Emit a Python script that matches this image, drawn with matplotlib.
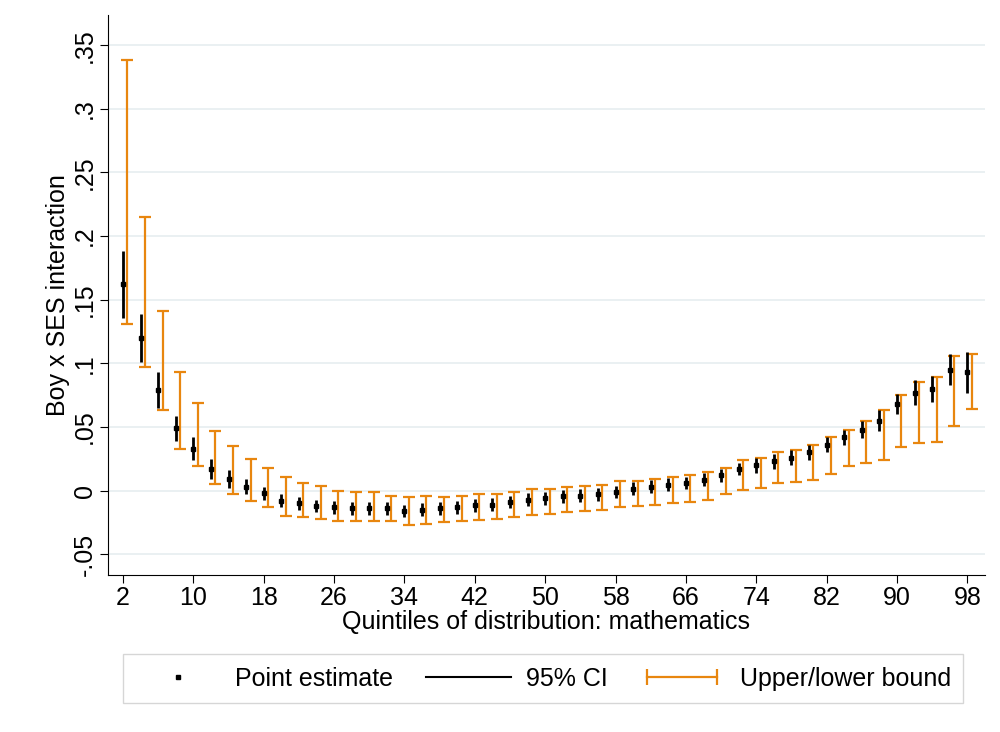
import matplotlib
matplotlib.use("Agg")
import matplotlib.pyplot as plt
import numpy as np
from matplotlib.lines import Line2D
from matplotlib.legend_handler import HandlerLine2D

plt.rcParams['font.family'] = ['Liberation Sans', 'DejaVu Sans']

x = list(range(2, 100, 2))
est = [0.162, 0.120, 0.079, 0.049, 0.033, 0.017, 0.009, 0.003, -0.002, -0.008,
       -0.010, -0.012, -0.013, -0.014, -0.014, -0.014, -0.016, -0.015, -0.014, -0.013,
       -0.0115, -0.011, -0.009, -0.007, -0.006, -0.0045, -0.004, -0.003, -0.001, 0.0016,
       0.003, 0.0047, 0.006, 0.0087, 0.012, 0.017, 0.020, 0.023, 0.026, 0.030,
       0.036, 0.042, 0.048, 0.055, 0.068, 0.077, 0.080, 0.095, 0.093]
ci_half = [0.026, 0.019, 0.014, 0.010, 0.009, 0.008, 0.007, 0.006, 0.005, 0.005,
           0.005, 0.005, 0.005, 0.005, 0.005, 0.005, 0.005, 0.005, 0.005, 0.005,
           0.005, 0.005, 0.005, 0.005, 0.005, 0.005, 0.005, 0.005, 0.005, 0.005,
           0.005, 0.005, 0.005, 0.005, 0.005, 0.005, 0.006, 0.006, 0.006, 0.006,
           0.006, 0.006, 0.007, 0.008, 0.008, 0.010, 0.010, 0.012, 0.016]
ub = [0.338, 0.215, 0.141, 0.093, 0.069, 0.047, 0.035, 0.025, 0.018, 0.011,
      0.006, 0.004, 0.000, -0.001, -0.001, -0.004, -0.005, -0.0045, -0.005, -0.0045,
      -0.003, -0.003, -0.001, 0.001, 0.001, 0.0025, 0.0034, 0.0047, 0.0073, 0.0073,
      0.0094, 0.011, 0.012, 0.0147, 0.018, 0.024, 0.026, 0.030, 0.032, 0.036,
      0.042, 0.048, 0.055, 0.063, 0.075, 0.085, 0.089, 0.106, 0.107]
lb = [0.131, 0.097, 0.063, 0.033, 0.019, 0.005, -0.003, -0.008, -0.013, -0.020,
      -0.021, -0.022, -0.024, -0.024, -0.024, -0.024, -0.027, -0.026, -0.025, -0.024,
      -0.023, -0.022, -0.021, -0.019, -0.018, -0.017, -0.016, -0.015, -0.013, -0.012,
      -0.011, -0.010, -0.009, -0.007, -0.003, 0.0008, 0.0024, 0.006, 0.0068, 0.0087,
      0.0134, 0.0194, 0.0215, 0.0244, 0.034, 0.0375, 0.038, 0.051, 0.064]
xticks = list(range(2, 100, 8))
yticks = [-0.05, 0, 0.05, 0.1, 0.15, 0.2, 0.25, 0.3, 0.35]
ylabels = ["-.05", "0", ".05", ".1", ".15", ".2", ".25", ".3", ".35"]

orange = "#e8860f"
fs = 18
fig = plt.figure(figsize=(10, 7.32), dpi=100)
ax = fig.add_axes([0.108, 0.215, 0.877, 0.765])
xa = np.array(x, float)
ea = np.array(est)
ch = np.array(ci_half)
ax.vlines(xa, ea - ch, ea + ch, color="black", lw=2, zorder=3)
ax.plot(xa, ea, "s", color="black", ms=3.5, zorder=4)
ax.errorbar(xa + 0.5, (np.array(ub) + np.array(lb)) / 2,
            yerr=(np.array(ub) - np.array(lb)) / 2, fmt="none",
            ecolor=orange, elinewidth=1.6, capsize=4, capthick=1.6, zorder=2)
ax.set_xlim(0.3, 100)
ax.set_ylim(-0.066, 0.374)
ax.set_xticks(xticks)
ax.set_yticks(yticks)
ax.set_yticklabels(ylabels, rotation=90, va="center")
ax.tick_params(labelsize=fs, length=6, pad=2)
ax.grid(axis="y", color="#e6eef0", lw=1.2)
ax.set_axisbelow(True)
for s in ["top", "right"]:
    ax.spines[s].set_visible(False)
ax.set_xlabel("Quintiles of distribution: mathematics", fontsize=fs, labelpad=0)
ax.set_ylabel("Boy x SES interaction", fontsize=fs, labelpad=2)

h1 = Line2D([], [], marker="s", color="black", ls="none", ms=3.5)
h2 = Line2D([], [], color="black", lw=1.5)
h3 = Line2D([], [], color=orange, lw=1.6, marker="|", ms=12, mew=1.6)
fig.legend([h1, h2, h3], ["Point estimate", "95% CI", "Upper/lower bound"],
           loc="center", bbox_to_anchor=(0.543, 0.073), ncol=3, fontsize=fs,
           frameon=True, fancybox=False, edgecolor="#cccccc", handlelength=3.4,
           columnspacing=1.3, borderpad=0.5, handletextpad=0.6,
           handler_map={h3: HandlerLine2D(numpoints=2), h1: HandlerLine2D(numpoints=1)})
fig.savefig("out.png")
